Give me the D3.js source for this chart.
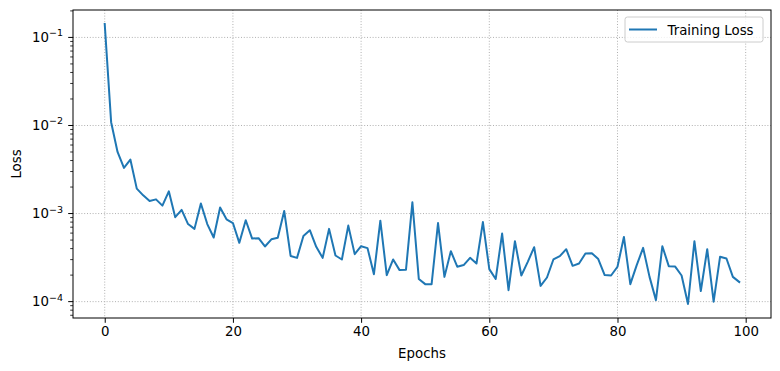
<!DOCTYPE html>
<html><head><meta charset="utf-8">
<script src="https://cdn.jsdelivr.net/npm/d3@7"></script>
<style>body{margin:0;background:#fff}svg{display:block}text{font-family:"DejaVu Sans",sans-serif}</style>
</head><body><svg id="c" width="780" height="371"></svg>
<script>
const epochs = d3.range(0, 100);
const loss = [0.142,0.0109,0.0050,0.0033,0.0041,0.00192,0.00161,0.00139,0.00145,0.00123,
0.00179,0.00091,0.0011,0.00076,0.00067,0.0013,0.00076,0.000535,0.00117,0.00086,
0.00078,0.000465,0.00084,0.00052,0.000525,0.000423,0.00051,0.00053,0.00107,0.00033,
0.000314,0.000557,0.000647,0.000419,0.000314,0.00067,0.000334,0.000301,0.00073,0.000346,
0.000426,0.000405,0.000205,0.00083,0.0002,0.000301,0.000228,0.00023,0.00134,0.000181,
0.000158,0.000158,0.00078,0.000191,0.000374,0.000249,0.00026,0.000314,0.000271,0.0008,
0.000234,0.000181,0.000593,0.000135,0.000485,0.000198,0.000283,0.000415,0.000151,0.000188,
0.000301,0.000328,0.000394,0.000255,0.000271,0.000352,0.000355,0.000304,0.0002,0.000198,
0.000249,0.000543,0.000158,0.00026,0.000408,0.000191,0.000104,0.000426,0.000253,0.00025,
0.000198,0.000094,0.000485,0.000132,0.000394,0.0001,0.000323,0.000309,0.000191,0.000167];
const xTicks = [0,20,40,60,80,100];
const yTicks = [-4,-3,-2,-1];
const seriesName = "Training Loss";

const L=73,R=771,T=10,B=318;
const svg=d3.select("#c");
const lmin=Math.log10(d3.min(loss)), lmax=Math.log10(d3.max(loss));
const m=(lmax-lmin)*0.05;
const x=d3.scaleLinear().domain([-4.95,103.95]).range([L,R]);
const y=d3.scaleLog().domain([Math.pow(10,lmin-m),Math.pow(10,lmax+m)]).range([B,T]);

// grid
const g=svg.append("g");
xTicks.forEach(t=>g.append("line").attr("x1",x(t)).attr("x2",x(t)).attr("y1",T).attr("y2",B)
  .attr("stroke","#b0b0b0").attr("stroke-width",1).attr("stroke-dasharray","1,1.8"));
yTicks.forEach(t=>g.append("line").attr("x1",L).attr("x2",R).attr("y1",y(Math.pow(10,t))).attr("y2",y(Math.pow(10,t)))
  .attr("stroke","#b0b0b0").attr("stroke-width",1).attr("stroke-dasharray","1,1.8"));

// line
const line=d3.line().x((d,i)=>x(epochs[i])).y(d=>y(d));
svg.append("path").datum(loss).attr("d",line).attr("fill","none").attr("stroke","#1f77b4")
  .attr("stroke-width",2).attr("stroke-linejoin","round").attr("stroke-linecap","square");

// x axis
const xa=svg.append("g").attr("transform",`translate(0,${B})`)
  .call(d3.axisBottom(x).tickValues(xTicks).tickSize(4.8).tickPadding(3.5).tickFormat(d3.format("d")));
xa.select(".domain").remove();
xa.selectAll("line").attr("stroke","#000").attr("stroke-width",1);
xa.selectAll("text").attr("font-size","13.33px").attr("fill","#000").attr("font-family","DejaVu Sans");

// y axis
const [d0,d1]=y.domain();
const minor=[];
for(let e=Math.floor(Math.log10(d0));e<=Math.ceil(Math.log10(d1));e++){
  for(let k=2;k<=9;k++){const v=k*Math.pow(10,e); if(v>=d0&&v<=d1) minor.push(v);}
}
const ya=svg.append("g").attr("transform",`translate(${L},0)`);
minor.forEach(v=>ya.append("line").attr("x1",-2.8).attr("x2",0).attr("y1",y(v)).attr("y2",y(v)).attr("stroke","#000").attr("stroke-width",0.8));
yTicks.forEach(t=>{
  const yy=y(Math.pow(10,t));
  ya.append("line").attr("x1",-4.8).attr("x2",0).attr("y1",yy).attr("y2",yy).attr("stroke","#000").attr("stroke-width",1);
  const tx=ya.append("text").attr("x",-10).attr("y",yy+4.5).attr("text-anchor","end").attr("font-size","13.33px").attr("fill","#000");
  tx.append("tspan").text("10");
  tx.append("tspan").attr("dy",-5.5).attr("font-size","9.5px").text("\u2212"+Math.abs(t));
});

// frame
svg.append("rect").attr("x",L).attr("y",T).attr("width",R-L).attr("height",B-T).attr("fill","none").attr("stroke","#000").attr("stroke-width",1);

// labels
svg.append("text").attr("x",(L+R)/2).attr("y",358).attr("text-anchor","middle").attr("font-size","13.33px").text("Epochs");
svg.append("text").attr("transform",`translate(21,${(T+B)/2}) rotate(-90)`).attr("text-anchor","middle").attr("font-size","13.33px").text("Loss");

// legend
const lg=svg.append("g");
lg.append("rect").attr("x",625).attr("y",17).attr("width",138).attr("height",25).attr("rx",2.5)
  .attr("fill","#fff").attr("fill-opacity",0.8).attr("stroke","#cccccc").attr("stroke-width",1);
lg.append("line").attr("x1",629).attr("x2",657).attr("y1",29.5).attr("y2",29.5).attr("stroke","#1f77b4").attr("stroke-width",2);
lg.append("text").attr("x",667.5).attr("y",34.5).attr("font-size","13.33px").text(seriesName);
</script></body></html>
